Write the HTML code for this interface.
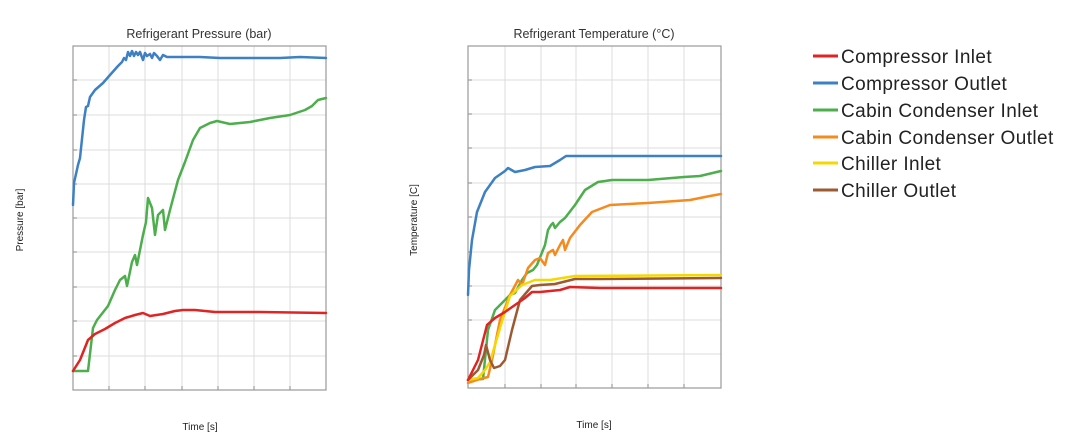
<!DOCTYPE html>
<html><head><meta charset="utf-8"><style>
html,body{margin:0;padding:0;background:#fff;}
svg{display:block;font-family:"Liberation Sans",Arial,sans-serif;}
</style></head><body>
<svg width="1080" height="442" viewBox="0 0 1080 442" xmlns="http://www.w3.org/2000/svg">
<g stroke="#dcdcdc" stroke-width="1">
<path d="M109 46V390M145 46V390M182 46V390M218 46V390M254 46V390M290 46V390"/>
<path d="M73 80H326M73 115H326M73 150H326M73 184H326M73 218H326M73 252H326M73 287H326M73 321H326M73 356H326"/>
<path d="M505 46V388M541 46V388M576 46V388M612 46V388M648 46V388M684 46V388"/>
<path d="M468 80H721M468 114H721M468 148H721M468 183H721M468 217H721M468 252H721M468 286H721M468 320H721M468 354H721"/>
</g>
<g stroke="#888" stroke-width="1">
<path d="M73 80h4M73 115h4M73 150h4M73 184h4M73 218h4M73 252h4M73 287h4M73 321h4M73 356h4M109 390v-4M145 390v-4M182 390v-4M218 390v-4M254 390v-4M290 390v-4"/>
<path d="M468 80h4M468 114h4M468 148h4M468 183h4M468 217h4M468 252h4M468 286h4M468 320h4M468 354h4M505 388v-4M541 388v-4M576 388v-4M612 388v-4M648 388v-4M684 388v-4"/>
</g>
<rect x="73" y="46" width="253" height="344" fill="none" stroke="#999" stroke-width="1.2"/>
<rect x="468" y="46" width="253" height="342" fill="none" stroke="#999" stroke-width="1.2"/>
<g font-size="12.5" fill="#333" text-anchor="middle">
<text x="199" y="38">Refrigerant Pressure (bar)</text>
<text x="594" y="38">Refrigerant Temperature (°C)</text>
</g>
<g font-size="10" fill="#222" text-anchor="middle">
<text x="200" y="430">Time [s]</text>
<text x="594" y="428">Time [s]</text>
<text transform="translate(23,220) rotate(-90)">Pressure [bar]</text>
<text transform="translate(417,220) rotate(-90)">Temperature [C]</text>
</g>
<g fill="none" stroke-width="2.5" stroke-linejoin="round" stroke-linecap="round">
<polyline stroke="#3d80c4" points="73,205 74,183 78,165 80,158 84,120 86,107 88,106 90,97 95,90 103,83 110,75 118,66 122,62 124,58 126,60 128,52 130,56 132,51 134,56 136,52 138,55 140,52 143,60 145,53 147,56 150,54 152,58 154,53 157,56 160,60 163,55 167,57 175,57 200,57 220,58 250,58 280,58 300,57 326,58"/>
<polyline stroke="#4cae4c" points="73,371 88,371 93,328 97,320 108,306 115,290 120,280 125,276 127,286 132,262 135,255 137,265 143,235 146,222 148,198 152,208 155,235 158,215 163,210 165,230 170,210 178,180 185,162 193,140 200,128 210,123 217,121 230,124 250,122 270,118 290,115 305,110 312,106 318,100 326,98"/>
<polyline stroke="#e02424" points="73,371 80,360 88,340 95,334 105,329 115,323 125,318 135,315 143,313 150,316 163,314 175,311 183,310 195,310 215,312 260,312 326,313"/>
<polyline stroke="#3d80c4" points="468,295 469,270 472,240 477,212 485,192 495,178 505,171 508,168 515,172 525,170 535,167 550,166 560,160 566,156 600,156 721,156"/>
<polyline stroke="#4cae4c" points="468,380 483,379 488,330 495,310 505,300 510,295 515,293 522,280 527,273 533,270 537,265 545,245 548,230 551,225 553,223 555,228 560,222 565,218 575,205 585,190 598,182 612,180 648,180 684,177 700,176 721,171"/>
<polyline stroke="#f58a1f" points="468,383 480,379 488,377 492,360 500,320 510,295 518,280 522,285 528,268 535,260 540,258 545,265 548,253 553,250 555,255 560,245 563,240 565,250 570,238 580,225 592,212 610,205 648,203 690,200 710,196 721,194"/>
<polyline stroke="#f5d800" points="468,380 478,378 485,370 490,362 495,345 503,318 510,296 522,285 535,280 550,280 575,276 721,275"/>
<polyline stroke="#9c5a33" points="468,380 478,370 484,355 486,345 490,360 494,368 500,366 505,360 512,330 520,300 532,286 540,285 555,284 575,279 600,279 721,278"/>
<polyline stroke="#e02424" points="468,380 478,360 487,325 495,318 505,312 515,305 525,298 532,292 540,292 560,290 570,287 600,288 721,288"/>
</g>
<g stroke-width="3">
<line x1="813" y1="56" x2="838" y2="56" stroke="#e02424"/>
<line x1="813" y1="83" x2="838" y2="83" stroke="#3d80c4"/>
<line x1="813" y1="110" x2="838" y2="110" stroke="#4cae4c"/>
<line x1="813" y1="137" x2="838" y2="137" stroke="#f58a1f"/>
<line x1="813" y1="163" x2="838" y2="163" stroke="#f5d800"/>
<line x1="813" y1="190" x2="838" y2="190" stroke="#9c5a33"/>
</g>
<g font-size="19" fill="#222" letter-spacing="0.4">
<text x="841" y="63">Compressor Inlet</text>
<text x="841" y="90">Compressor Outlet</text>
<text x="841" y="117">Cabin Condenser Inlet</text>
<text x="841" y="144">Cabin Condenser Outlet</text>
<text x="841" y="170">Chiller Inlet</text>
<text x="841" y="197">Chiller Outlet</text>
</g>
</svg>
</body></html>
